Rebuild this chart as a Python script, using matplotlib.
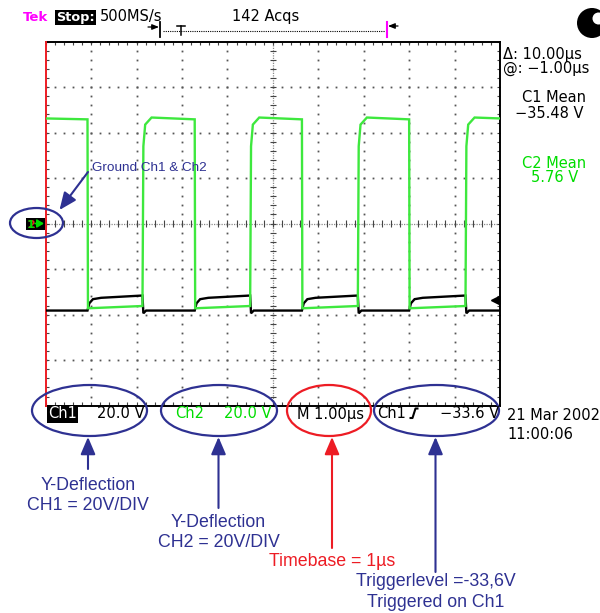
import matplotlib
matplotlib.use('Agg')
import matplotlib.pyplot as plt
from matplotlib.patches import Ellipse, Circle
from matplotlib.collections import LineCollection
import numpy as np

# ---------------- data ----------------
t_fall = [-4.08, -1.72, 0.64, 3.00]     # Ch2 falls / Ch1 rises (µs)
t_rise = [-2.87, -0.50, 1.87, 4.24]     # Ch2 rises / Ch1 falls (µs)
ch2_high = [46.6, 45.8]                 # V, start / end of high plateau
ch2_low = [-37.2, -36.2]                # V, start / end of low plateau
ch1_low = -38.2                         # V
ch1_high = [-32.6, -31.6]               # V
ch2_rise_dt = [0.0, 0.02, 0.06, 0.20]   # edge shape (µs after edge)
ch2_rise_v = [-36.2, 34.0, 43.5, 46.6]
ch1_rise_dt = [0.0, 0.04, 0.12, 0.30]
ch1_rise_v = [-38.2, -35.0, -33.2, -32.6]
ch1_fall_dt = [0.0, 0.02, 0.08]
ch1_fall_v = [-31.6, -39.4, -38.2]
trig_level = -33.6                       # V

bottom_labels = ["Ch1", "20.0 V", "Ch2", "20.0 V", "M 1.00µs", "Ch1", "−33.6 V"]

W, H = 600, 613
BLUE = '#2e3192'
RED = '#ed1c24'
GREEN_TR = '#3ee83e'
GREEN_TX = '#00dd00'
MAG = '#ff00ff'

fig = plt.figure(figsize=(6, 6.13), dpi=100)
fig.patch.set_facecolor('white')

# ---------------- scope screen axes ----------------
L, R, T, B = 45.7, 500.0, 41.5, 405.7
sc = fig.add_axes([L / W, 1 - B / H, (R - L) / W, (B - T) / H])
sc.set_xlim(-5, 5)
sc.set_ylim(-80, 80)
sc.axis('off')

xdiv = np.arange(-5, 5.001, 1.0)
ydiv = np.arange(-80, 80.01, 20.0)
minor_x = np.arange(-5, 5.001, 0.2)
minor_y = np.arange(-80, 80.01, 4.0)

# dotted grid
pts_x, pts_y = [], []
for xv in xdiv[1:-1]:
    if abs(xv) < 1e-9:
        continue
    pts_x += [xv] * len(minor_y)
    pts_y += list(minor_y)
for yv in ydiv[1:-1]:
    if abs(yv) < 1e-9:
        continue
    pts_x += list(minor_x)
    pts_y += [yv] * len(minor_x)
sc.plot(pts_x, pts_y, ls='none', marker='s', ms=1.3, mew=0, color='#555555')

# center cross
sc.plot([-5, 5], [0, 0], color='#8a8a8a', lw=0.9, ls=(0, (1, 1)))
sc.plot([0, 0], [-80, 80], color='#8a8a8a', lw=0.9, ls=(0, (1, 1)))
segs = []
for xv in minor_x:
    segs.append([(xv, -1.4), (xv, 1.4)])
for yv in minor_y:
    segs.append([(-0.07, yv), (0.07, yv)])
# border ticks
for xv in minor_x:
    segs.append([(xv, 80), (xv, 78.4)])
    segs.append([(xv, -80), (xv, -78.4)])
for yv in minor_y:
    segs.append([(4.93, yv), (5, yv)])
    segs.append([(-5, yv), (-4.93, yv)])
sc.add_collection(LineCollection(segs, colors='#444444', linewidths=0.8))

# borders
sc.plot([-5, 5], [80, 80], color='black', lw=1.4, clip_on=False)
sc.plot([-5, 5], [-80, -80], color='black', lw=1.4, clip_on=False)
sc.plot([5, 5], [-80, 80], color='black', lw=1.4, clip_on=False)
sc.plot([-5, -5], [-80, 80], color=RED, lw=1.4, clip_on=False)

# build traces from the edge times and levels
events = sorted([(t, 'fall') for t in t_fall] + [(t, 'rise') for t in t_rise])
g_t, g_v = [-5.0], [sum(ch2_high) / 2]
k_t, k_v = [-5.0], [ch1_low]
for t, kind in events:
    if kind == 'fall':
        g_t += [t, t + 0.01]
        g_v += [ch2_high[1], ch2_low[0]]
        k_t += [t + d for d in ch1_rise_dt]
        k_v += ch1_rise_v
    else:
        g_t += [t + d for d in ch2_rise_dt]
        g_v += ch2_rise_v
        k_t += [t + d for d in ch1_fall_dt]
        k_v += ch1_fall_v
g_t.append(5.0); g_v.append(sum(ch2_high) / 2)
k_t.append(5.0); k_v.append(ch1_low)
sc.plot(k_t, k_v, color='black', lw=1.7, zorder=5, solid_joinstyle='miter')
sc.plot(g_t, g_v, color=GREEN_TR, lw=1.7, zorder=6, solid_joinstyle='miter')
# trigger level marker
sc.plot([4.88], [trig_level], marker='<', ms=6, color='black', clip_on=False, zorder=7)

# ---------------- overlay axes in pixel coordinates ----------------
ov = fig.add_axes([0, 0, 1, 1])
ov.set_xlim(0, W)
ov.set_ylim(H, 0)
ov.axis('off')
ov.set_zorder(3)

SF = dict(family='DejaVu Sans', fontsize=10.5)
HF = dict(family=['Liberation Sans', 'DejaVu Sans'])

# top status line
ov.text(23, 21, 'Tek', color=MAG, fontsize=9.5, fontweight='bold', family='DejaVu Sans', va='baseline')
ov.text(56, 21, 'Stop:', color='white', fontsize=9.3, fontweight='bold', family='DejaVu Sans', va='baseline',
        bbox=dict(boxstyle='square,pad=0.08', fc='black', ec='none'))
ov.text(100, 21, '500MS/s', color='black', va='baseline', **SF)
ov.text(232, 21, '142 Acqs', color='black', va='baseline', **SF)

# record bar
ov.annotate('', xy=(159, 27), xytext=(148, 27),
            arrowprops=dict(arrowstyle='-|>,head_length=0.5,head_width=0.2', color='black', lw=0.9,
                            mutation_scale=8, shrinkA=0, shrinkB=0))
ov.plot([160, 160], [22, 37], color='black', lw=1.3)
ov.plot([163, 385], [31, 31], color='black', lw=0.8, ls=(0, (1, 1)))
ov.plot([177, 185], [25.5, 25.5], color='black', lw=1.1)
ov.plot([181, 181], [25.5, 35], color='black', lw=1.1)
ov.plot([386.5, 386.5], [22, 37], color=MAG, lw=1.5)
ov.annotate('', xy=(388, 26), xytext=(398, 26),
            arrowprops=dict(arrowstyle='-|>,head_length=0.5,head_width=0.2', color='black', lw=0.9,
                            mutation_scale=8, shrinkA=0, shrinkB=0))

# circle icon
ov.add_patch(Circle((592, 23), 15, fc='black', ec='none'))
ov.add_patch(Circle((598.5, 18.5), 6, fc='white', ec='none'))

# right side readouts
ov.text(503, 59.5, 'Δ: 10.00µs', color='black', va='baseline', **SF)
ov.text(503, 73, '@: −1.00µs', color='black', va='baseline', **SF)
ov.text(554, 101.5, 'C1 Mean', color='black', ha='center', va='baseline', **SF)
ov.text(549, 118.5, '−35.48 V', color='black', ha='center', va='baseline', **SF)
ov.text(554, 168, 'C2 Mean', color=GREEN_TX, ha='center', va='baseline', **SF)
ov.text(554.5, 181.5, '5.76 V', color=GREEN_TX, ha='center', va='baseline', **SF)

# bottom status line
ov.text(48, 418.5, bottom_labels[0], color='white', va='baseline',
        bbox=dict(boxstyle='square,pad=0.08', fc='black', ec='none'), **SF)
ov.text(97, 418.5, bottom_labels[1], color='black', va='baseline', **SF)
ov.text(175, 418.5, bottom_labels[2], color=GREEN_TX, va='baseline', **SF)
ov.text(224, 418.5, bottom_labels[3], color=GREEN_TX, va='baseline', **SF)
ov.text(297, 418.5, bottom_labels[4], color='black', va='baseline', **SF)
ov.text(377, 418.5, bottom_labels[5], color='black', va='baseline', **SF)
ov.plot([409.5, 412.5, 415.5, 418.5], [418, 418, 408.5, 408.5], color='black', lw=1.5,
        solid_capstyle='butt')
ov.text(440, 418.5, bottom_labels[6], color='black', va='baseline', **SF)
ov.text(507, 420, '21 Mar 2002', color='black', va='baseline', **SF)
ov.text(507, 439, '11:00:06', color='black', va='baseline', **SF)

# ground marker
ov.add_patch(plt.Rectangle((26, 217.5), 19, 12.5, fc='black', ec='none'))
ov.text(30.5, 228.5, '2', color=RED, fontsize=8, fontweight='bold', ha='center', va='baseline',
        family='DejaVu Sans')
ov.text(30.5, 228.5, '1', color=GREEN_TX, fontsize=8, fontweight='bold', ha='center', va='baseline',
        family='DejaVu Sans')
ov.annotate('', xy=(44, 223.5), xytext=(35, 223.5),
            arrowprops=dict(arrowstyle='-|>,head_length=0.5,head_width=0.3', color=GREEN_TX, lw=1.2,
                            mutation_scale=8, shrinkA=0, shrinkB=0))

# ellipses
ov.add_patch(Ellipse((89.5, 410.5), 115, 51, fill=False, ec=BLUE, lw=1.6))
ov.add_patch(Ellipse((219, 410.5), 116, 51, fill=False, ec=BLUE, lw=1.6))
ov.add_patch(Ellipse((329, 410.5), 84, 51, fill=False, ec=RED, lw=1.6))
ov.add_patch(Ellipse((436.5, 410.5), 125, 51, fill=False, ec=BLUE, lw=1.6))
ov.add_patch(Ellipse((36.5, 223), 53, 30, fill=False, ec=BLUE, lw=1.6))


def arrow(x0, y0, x1, y1, color):
    ov.annotate('', xy=(x1, y1), xytext=(x0, y0),
                arrowprops=dict(arrowstyle='-|>,head_length=0.75,head_width=0.32', color=color, lw=1.5,
                                mutation_scale=14, shrinkA=0, shrinkB=0))


arrow(88, 469, 88, 437, BLUE)
arrow(218.5, 508, 218.5, 437, BLUE)
arrow(332, 548, 332, 437, RED)
arrow(435.5, 572, 435.5, 437, BLUE)
arrow(88, 172, 59.5, 210, BLUE)

LF = 12.8
ov.text(88, 489.5, 'Y-Deflection', color=BLUE, ha='center', va='baseline', fontsize=LF, **HF)
ov.text(88, 509.5, 'CH1 = 20V/DIV', color=BLUE, ha='center', va='baseline', fontsize=LF, **HF)
ov.text(218.5, 527, 'Y-Deflection', color=BLUE, ha='center', va='baseline', fontsize=LF, **HF)
ov.text(218.5, 547, 'CH2 = 20V/DIV', color=BLUE, ha='center', va='baseline', fontsize=LF, **HF)
ov.text(332, 566, 'Timebase = 1µs', color=RED, ha='center', va='baseline', fontsize=LF, **HF)
ov.text(435.5, 585.5, 'Triggerlevel =-33,6V', color=BLUE, ha='center', va='baseline', fontsize=LF, **HF)
ov.text(435.5, 607, 'Triggered on Ch1', color=BLUE, ha='center', va='baseline', fontsize=LF, **HF)
ov.text(92, 171, 'Ground Ch1 & Ch2', color=BLUE, ha='left', va='baseline', fontsize=9.7, **HF)

fig.savefig('out.png', dpi=100, facecolor='white')
